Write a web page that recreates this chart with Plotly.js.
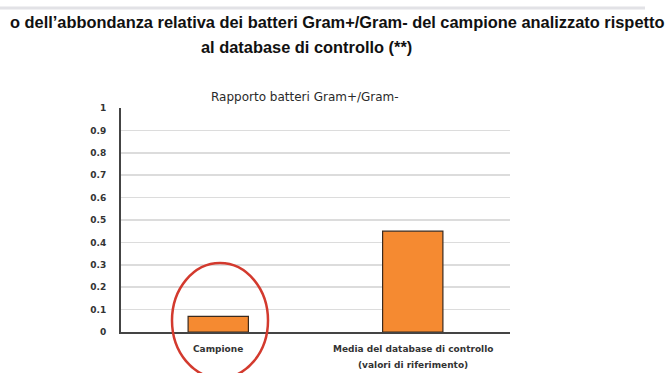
<!DOCTYPE html>
<html><head><meta charset="utf-8">
<script src="https://cdn.plot.ly/plotly-3.0.1.min.js"></script>
<style>body{margin:0;background:#fff}#c{width:669px;height:373px}</style>
</head><body><div id="c"></div>
<script>
const categories = ["Campione", "Media del database di controllo<br>(valori di riferimento)"];
const values = [0.07, 0.45];
const yTicks = [0, 0.1, 0.2, 0.3, 0.4, 0.5, 0.6, 0.7, 0.8, 0.9, 1];
const yTickLabels = ["0", "0.1", "0.2", "0.3", "0.4", "0.5", "0.6", "0.7", "0.8", "0.9", "1"];
const titleLine1 = "o dell’abbondanza relativa dei batteri Gram+/Gram- del campione analizzato rispetto";
const titleLine2 = "al database di controllo (**)";
const chartTitle = "Rapporto batteri Gram+/Gram-";

const L = 121, R = 510, T = 108, B = 332, W = 669, H = 373;
const px = x => (x - L) / (R - L);
const py = y => (B - y) / (B - T);

const trace = {
  type: 'bar', x: categories, y: values,
  width: 0.31,
  marker: {color: '#f58a31', line: {color: '#3a2a1e', width: 1.2}},
  hoverinfo: 'none'
};

const tickFont = {size: 9, color: '#333', weight: 'bold', family: 'DejaVu Sans, sans-serif'};
const catAnnotations = [];
categories.forEach(c => {
  c.split('<br>').forEach((line, i) => {
    catAnnotations.push({text: line, xref: 'x', yref: 'paper', x: c, y: py(349 + 16 * i),
      xanchor: 'center', yanchor: 'middle', showarrow: false, font: tickFont});
  });
});

const layout = {
  width: W, height: H,
  margin: {l: L, r: W - R, t: T, b: H - B, pad: 0},
  paper_bgcolor: '#fff', plot_bgcolor: '#fff',
  showlegend: false,
  font: {family: 'DejaVu Sans, sans-serif', color: '#333'},
  xaxis: {
    type: 'category', showgrid: false, zeroline: false,
    showline: true, linecolor: '#444', linewidth: 1.5,
    ticks: '', showticklabels: false,
    fixedrange: true
  },
  yaxis: {
    range: [0, 1], tickvals: yTicks, ticktext: yTickLabels,
    showgrid: true, gridcolor: '#dcdcdc', gridwidth: 1.5,
    zeroline: false, showline: true, linecolor: '#444', linewidth: 2,
    ticks: '', ticklabelstandoff: 11,
    tickfont: tickFont,
    fixedrange: true
  },
  annotations: [
    {text: titleLine1, xref: 'paper', yref: 'paper', x: px(666), y: py(22), xanchor: 'right', yanchor: 'middle',
     showarrow: false, font: {size: 16.4, color: '#111', weight: 'bold', family: 'Liberation Sans, Arial, sans-serif'}},
    {text: titleLine2, xref: 'paper', yref: 'paper', x: px(306), y: py(47), xanchor: 'center', yanchor: 'middle',
     showarrow: false, font: {size: 16.4, color: '#111', weight: 'bold', family: 'Liberation Sans, Arial, sans-serif'}},
    {text: chartTitle, xref: 'paper', yref: 'paper', x: px(305), y: py(97), xanchor: 'center', yanchor: 'middle',
     showarrow: false, font: {size: 12, color: '#2a2a2a', family: 'DejaVu Sans, sans-serif'}}
  ].concat(catAnnotations),
  shapes: [
    {type: 'line', xref: 'paper', yref: 'paper', x0: px(0), x1: px(645), y0: py(8), y1: py(8),
     line: {color: '#e2e2e6', width: 3}},
    {type: 'circle', xref: 'paper', yref: 'paper', x0: px(172), x1: px(268), y0: py(263), y1: py(378),
     line: {color: '#d33a2e', width: 2.5}}
  ]
};
Plotly.newPlot('c', [trace], layout, {displayModeBar: false, staticPlot: true});
</script></body></html>
